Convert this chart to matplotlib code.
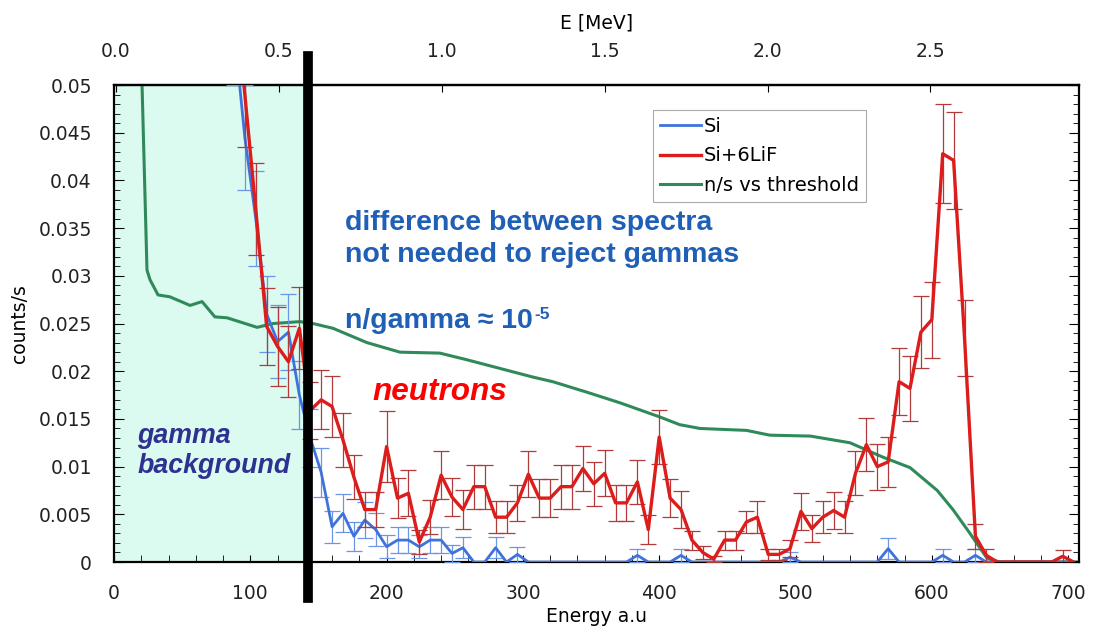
import numpy as np
import matplotlib
matplotlib.use("Agg")
import matplotlib.pyplot as plt
from matplotlib.ticker import MultipleLocator, FixedLocator, FormatStrFormatter

plt.rcParams['font.family'] = ['DejaVu Sans']

# ---------------- data ----------------
# bin centres (channel, a.u.)
channels = [88, 96, 104, 112, 120, 128, 136, 144, 152, 160, 168, 176, 184, 192, 200,
            208, 216, 224, 232, 240, 248, 256, 264, 272, 280, 288, 296, 304, 312, 320,
            328, 336, 344, 352, 360, 368, 376, 384, 392, 400, 408, 416, 424, 432, 440,
            448, 456, 464, 472, 480, 488, 496, 504, 512, 520, 528, 536, 544, 552, 560,
            568, 576, 584, 592, 600, 608, 616, 624, 632, 640, 648, 656, 664, 672, 680,
            688, 696, 704]

si_lif = [0.061, 0.049, 0.037, 0.0247, 0.0226, 0.0210, 0.0245, 0.0159, 0.0170, 0.0163,
          0.0128, 0.0089, 0.0055, 0.0055, 0.0121, 0.0067, 0.0072, 0.0021, 0.0047, 0.0091,
          0.0068, 0.0055, 0.0079, 0.0079, 0.0047, 0.0047, 0.0062, 0.0092, 0.0067, 0.0067,
          0.0079, 0.0079, 0.0098, 0.0082, 0.0093, 0.0062, 0.0062, 0.0084, 0.0034, 0.0131,
          0.0067, 0.0055, 0.0023, 0.0010, 0.0003, 0.0023, 0.0023, 0.0042, 0.0047, 0.0008,
          0.0008, 0.0014, 0.0053, 0.0035, 0.0047, 0.0054, 0.0047, 0.0093, 0.0123, 0.0100,
          0.0105, 0.0189, 0.0182, 0.0241, 0.0254, 0.0428, 0.0421, 0.0235, 0.0027, 0.0007,
          0.0, 0.0, 0.0, 0.0, 0.0, 0.0, 0.0006, 0.0]
si_lif_err = [0.006, 0.0055, 0.0048, 0.0040, 0.0041, 0.0037, 0.0043, 0.0030, 0.0031, 0.0032,
              0.0028, 0.0023, 0.0018, 0.0018, 0.0037, 0.0021, 0.0024, 0.0013, 0.0018, 0.0025,
              0.0020, 0.0020, 0.0023, 0.0023, 0.0017, 0.0017, 0.0019, 0.0024, 0.0020, 0.0020,
              0.0023, 0.0023, 0.0024, 0.0023, 0.0024, 0.0019, 0.0019, 0.0023, 0.0015, 0.0028,
              0.0020, 0.0019, 0.0010, 0.0007, 0.0003, 0.0010, 0.0010, 0.0012, 0.0017, 0.0006,
              0.0006, 0.0009, 0.0019, 0.0014, 0.0017, 0.0019, 0.0017, 0.0023, 0.0028, 0.0024,
              0.0026, 0.0035, 0.0034, 0.0038, 0.0040, 0.0052, 0.0051, 0.0040, 0.0013, 0.0007,
              0.0, 0.0, 0.0, 0.0, 0.0, 0.0, 0.0007, 0.0]

si = [0.056, 0.0445, 0.036, 0.026, 0.0231, 0.0241, 0.0175, 0.0130, 0.0094, 0.0037,
      0.0051, 0.0027, 0.0044, 0.0034, 0.0016, 0.0023, 0.0023, 0.0016, 0.0023, 0.0023,
      0.0009, 0.0015, 0.0, 0.0, 0.0015, 0.0, 0.0008, 0.0, 0.0, 0.0,
      0.0, 0.0, 0.0, 0.0, 0.0, 0.0, 0.0, 0.0007, 0.0, 0.0,
      0.0, 0.0007, 0.0, 0.0, 0.0, 0.0, 0.0, 0.0, 0.0, 0.0,
      0.0, 0.0005, 0.0, 0.0, 0.0, 0.0, 0.0, 0.0, 0.0, 0.0,
      0.0014, 0.0, 0.0, 0.0, 0.0, 0.0007, 0.0, 0.0, 0.0007, 0.0,
      0.0, 0.0, 0.0, 0.0, 0.0, 0.0, 0.0, 0.0]
si_err = [0.006, 0.0055, 0.005, 0.004, 0.0038, 0.004, 0.0036, 0.0030, 0.0026, 0.0017,
          0.0020, 0.0015, 0.0019, 0.0017, 0.0012, 0.0014, 0.0014, 0.0012, 0.0014, 0.0014,
          0.0009, 0.0011, 0.0, 0.0, 0.0011, 0.0, 0.0008, 0.0, 0.0, 0.0,
          0.0, 0.0, 0.0, 0.0, 0.0, 0.0, 0.0, 0.0007, 0.0, 0.0,
          0.0, 0.0007, 0.0, 0.0, 0.0, 0.0, 0.0, 0.0, 0.0, 0.0,
          0.0, 0.0005, 0.0, 0.0, 0.0, 0.0, 0.0, 0.0, 0.0, 0.0,
          0.0011, 0.0, 0.0, 0.0, 0.0, 0.0007, 0.0, 0.0, 0.0007, 0.0,
          0.0, 0.0, 0.0, 0.0, 0.0, 0.0, 0.0, 0.0]

# n/s vs threshold curve
thr_x = [20.3, 24.2, 26.4, 32.3, 41, 55.8, 64.6, 74, 83, 105, 116.7, 136.5, 146, 160.7,
         185.6, 209.8, 239, 259, 283, 307, 322, 347, 371, 400.6, 415, 430, 464, 481, 511,
         540, 564, 584, 604, 615.5, 628, 640.5, 650, 708]
thr_y = [0.0515, 0.0306, 0.0296, 0.0280, 0.0278, 0.0269, 0.0273, 0.0257, 0.0256, 0.0246,
         0.0250, 0.0252, 0.0250, 0.0245, 0.0230, 0.0220, 0.0219, 0.0212, 0.0203, 0.0194,
         0.0189, 0.0178, 0.0167, 0.0152, 0.0144, 0.0140, 0.0138, 0.0133, 0.0132, 0.0125,
         0.0110, 0.0099, 0.0075, 0.0055, 0.0030, 0.0004, 0.0, 0.0]

cut_channel = 142.5          # gamma rejection threshold
x_ticks = [0, 100, 200, 300, 400, 500, 600, 700]
y_ticks = [0, 0.005, 0.01, 0.015, 0.02, 0.025, 0.03, 0.035, 0.04, 0.045, 0.05]
y_tick_labels = ['0', '0.005', '0.01', '0.015', '0.02', '0.025', '0.03', '0.035',
                 '0.04', '0.045', '0.05']
mev_ticks = [0.0, 0.5, 1.0, 1.5, 2.0, 2.5]
ch_offset, ch_per_mev = 1.5, 239.0

# ---------------- figure ----------------
fig = plt.figure(figsize=(10.94, 6.30), dpi=100)
ax = fig.add_axes([0.1042, 0.1079, 0.8821, 0.7571])

ax.axvspan(0, cut_channel, color='#dbfaf0', zorder=0, lw=0)

ch = np.array(channels)
r = np.array(si_lif); re = np.array(si_lif_err)
b = np.array(si); be = np.array(si_err)

blue = '#3f72db'
red = '#dd1c1c'
green = '#2f8a5a'

l_thr, = ax.plot(thr_x, thr_y, color=green, lw=2.2, zorder=2, label='n/s vs threshold')

mb = be > 0
ax.errorbar(ch[mb], b[mb], yerr=be[mb], fmt='none', ecolor='#6b95e6', elinewidth=0.9,
            capsize=6, capthick=0.9, zorder=3)
l_si, = ax.plot(ch, b, color=blue, lw=2.0, zorder=3, label='Si')

mr = re > 0
ax.errorbar(ch[mr], r[mr], yerr=re[mr], fmt='none', ecolor='#b23a3a', elinewidth=0.9,
            capsize=6, capthick=0.9, zorder=4)
l_lif, = ax.plot(ch, r, color=red, lw=2.4, zorder=4, label='Si+6LiF')

ax.axvline(cut_channel, ymin=-0.075, ymax=1.061, color='black', lw=7, clip_on=False, zorder=10)

ax.set_xlim(0, 708)
ax.set_ylim(0, 0.05)

for s in ax.spines.values():
    s.set_linewidth(1.6)

ax.xaxis.set_major_locator(FixedLocator(x_ticks))
ax.xaxis.set_minor_locator(MultipleLocator(20))
ax.set_yticks(y_ticks)
ax.set_yticklabels(y_tick_labels)
ax.yaxis.set_minor_locator(MultipleLocator(0.001))
ax.tick_params(axis='both', which='both', direction='in', labelsize=13.5, colors='black')
ax.tick_params(axis='x', which='both', top=False, bottom=True, length=5, pad=16)
ax.tick_params(axis='y', which='major', left=True, right=True, length=7, pad=16)
ax.tick_params(axis='y', which='minor', left=True, right=True, length=4)
for lab in ax.get_xticklabels() + ax.get_yticklabels():
    lab.set_color('#222222')

ax.set_xlabel('Energy a.u', fontsize=13.5)
ax.xaxis.set_label_coords(0.5, -0.095)
ax.set_ylabel('counts/s', fontsize=13.5)
ax.yaxis.set_label_coords(-0.088, 0.5)

sec = ax.secondary_xaxis('top', functions=(lambda c: (c - ch_offset) / ch_per_mev,
                                           lambda e: e * ch_per_mev + ch_offset))
sec.set_xticks(mev_ticks)
sec.xaxis.set_major_formatter(FormatStrFormatter('%.1f'))
sec.tick_params(direction='in', length=5, labelsize=13.5, pad=17, labelcolor='#222222')
sec.spines['top'].set_linewidth(1.6)
sec.set_xlabel('E [MeV]', fontsize=13.5, labelpad=10)

leg = ax.legend([l_si, l_lif, l_thr], ['Si', 'Si+6LiF', 'n/s vs threshold'],
                loc='upper left', bbox_to_anchor=(0.559, 0.948), fontsize=14,
                frameon=True, fancybox=False, borderpad=0.35, labelspacing=0.55,
                handlelength=2.1, handletextpad=0.15, borderaxespad=0)
leg.get_frame().set_edgecolor('#aaaaaa')
leg.get_frame().set_linewidth(0.8)
leg.get_frame().set_alpha(1)
leg.set_zorder(11)

txt_blue = '#1f5fb5'
fs_blue = 20.5
ax.text(169.5, 0.0348, 'difference between spectra', color=txt_blue, fontsize=fs_blue,
        fontweight='bold', family='Liberation Sans', va='baseline', ha='left', zorder=12)
ax.text(169.5, 0.0314, 'not needed to reject gammas', color=txt_blue, fontsize=fs_blue,
        fontweight='bold', family='Liberation Sans', va='baseline', ha='left', zorder=12)
t_ratio = ax.text(169.5, 0.0245, 'n/gamma \u2248 10', color=txt_blue, fontsize=fs_blue,
                  fontweight='bold', family='Liberation Sans', va='baseline', ha='left',
                  zorder=12)
ax.annotate('-5', xy=(1.0, 1.0), xycoords=t_ratio, xytext=(1, 1),
            textcoords='offset points', color=txt_blue, fontsize=12.5, fontweight='bold',
            family='Liberation Sans', va='top', ha='left', zorder=12)
ax.text(189.3, 0.0170, 'neutrons', color='#ff0000', fontsize=22.7, fontweight='bold',
        style='italic', family='Liberation Sans', va='baseline', ha='left', zorder=12)
ax.text(17.0, 0.0125, 'gamma', color='#2e3192', fontsize=19.3, fontweight='bold',
        style='italic', family='Liberation Sans', va='baseline', ha='left', zorder=12)
ax.text(17.0, 0.0093, 'background', color='#2e3192', fontsize=19.3, fontweight='bold',
        style='italic', family='Liberation Sans', va='baseline', ha='left', zorder=12)

fig.savefig('out.png', dpi=100)
